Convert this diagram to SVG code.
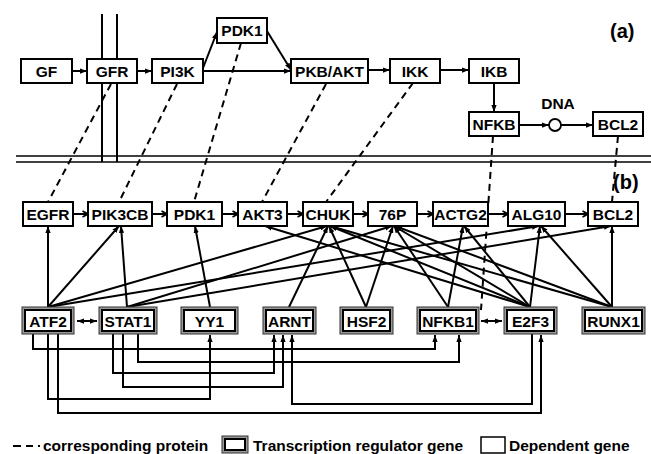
<svg xmlns="http://www.w3.org/2000/svg" width="651" height="454" viewBox="0 0 651 454">
<style>
text{font-family:"Liberation Sans",Arial,sans-serif;font-weight:bold;font-size:15.5px;fill:#000}
.c{text-anchor:middle}
.box{fill:#fff;stroke:#000;stroke-width:2}
.tro{fill:#9a9a9a;stroke:#333;stroke-width:1}
.tri{fill:#fff;stroke:#000;stroke-width:2}
.ln{stroke:#000;stroke-width:2;fill:none}
.dl{stroke:#000;stroke-width:2;fill:none;stroke-dasharray:7,5}
.thin{stroke:#000;stroke-width:1.5;fill:none}
</style>
<defs>
<marker id="ah" viewBox="0 0 8 6" refX="8" refY="3" markerWidth="7" markerHeight="5.5" markerUnits="userSpaceOnUse" orient="auto"><path d="M0,0 L8,3 L0,6 z" fill="#000"/></marker>
<marker id="as" viewBox="0 0 8 6" refX="0" refY="3" markerWidth="7" markerHeight="5.5" markerUnits="userSpaceOnUse" orient="auto"><path d="M8,0 L0,3 L8,6 z" fill="#000"/></marker>
<marker id="ch" viewBox="0 0 8 8" refX="7" refY="4" markerWidth="8" markerHeight="8" markerUnits="userSpaceOnUse" orient="auto"><path d="M1.5,1 L7,4 L1.5,7" fill="none" stroke="#000" stroke-width="1.8"/></marker>
</defs>

<g id="membrane">
<line class="thin" x1="16" y1="156" x2="651" y2="156"/>
<line class="thin" x1="16" y1="162" x2="651" y2="162"/>
<line class="ln" x1="102" y1="14" x2="102" y2="162"/>
<line class="ln" x1="117" y1="14" x2="117" y2="162"/>
</g>

<g id="connectors">
<line class="ln" x1="72" y1="71" x2="87" y2="71" marker-end="url(#ah)"/>
<line class="ln" x1="137" y1="71" x2="152" y2="71" marker-end="url(#ah)"/>
<line class="ln" x1="203" y1="71" x2="291" y2="71" marker-end="url(#ah)"/>
<line class="ln" x1="203" y1="68" x2="217" y2="32" marker-end="url(#ah)"/>
<line class="ln" x1="267" y1="31" x2="291" y2="70" marker-end="url(#ah)"/>
<line class="ln" x1="368" y1="70" x2="390" y2="70" marker-end="url(#ah)"/>
<line class="ln" x1="440" y1="70" x2="469" y2="70" marker-end="url(#ah)"/>
<line class="ln" x1="494" y1="83" x2="494" y2="112" marker-end="url(#ah)"/>
<line class="ln" x1="519" y1="125" x2="549" y2="125" marker-end="url(#ah)"/>
<line class="ln" x1="561" y1="125" x2="593" y2="125" marker-end="url(#ah)"/>
<line class="dl" x1="111" y1="84" x2="48" y2="202"/>
<line class="dl" x1="177" y1="84" x2="119" y2="202"/>
<line class="dl" x1="241" y1="43" x2="194" y2="202"/>
<line class="dl" x1="326" y1="84" x2="262" y2="202"/>
<line class="dl" x1="413" y1="83" x2="326" y2="202"/>
<line class="dl" x1="493" y1="136" x2="481" y2="310"/>
<line class="dl" x1="618" y1="136" x2="612" y2="202"/>
<line class="ln" x1="74" y1="214" x2="88" y2="214" marker-end="url(#ch)"/>
<line class="ln" x1="153" y1="214" x2="167" y2="214" marker-end="url(#ch)"/>
<line class="ln" x1="223" y1="214" x2="238" y2="214" marker-end="url(#ch)"/>
<line class="ln" x1="288" y1="214" x2="303" y2="214" marker-end="url(#ch)"/>
<line class="ln" x1="354" y1="214" x2="368" y2="214" marker-end="url(#ch)"/>
<line class="ln" x1="418" y1="214" x2="433" y2="214" marker-end="url(#ch)"/>
<line class="ln" x1="489" y1="214" x2="508" y2="214" marker-end="url(#ch)"/>
<line class="ln" x1="566" y1="214" x2="588" y2="214" marker-end="url(#ch)"/>
<line class="ln" x1="48" y1="307" x2="48" y2="226" marker-end="url(#ah)"/>
<line class="ln" x1="48" y1="307" x2="119" y2="226" marker-end="url(#ah)"/>
<line class="ln" x1="48" y1="307" x2="327" y2="226" marker-end="url(#ah)"/>
<line class="ln" x1="48" y1="307" x2="539" y2="226" marker-end="url(#ah)"/>
<line class="ln" x1="127" y1="307" x2="121" y2="226" marker-end="url(#ah)"/>
<line class="ln" x1="127" y1="307" x2="392" y2="226" marker-end="url(#ah)"/>
<line class="ln" x1="127" y1="307" x2="611" y2="226" marker-end="url(#ah)"/>
<line class="ln" x1="210" y1="307" x2="195" y2="226" marker-end="url(#ah)"/>
<line class="ln" x1="289" y1="307" x2="328" y2="226" marker-end="url(#ah)"/>
<line class="ln" x1="366" y1="307" x2="329" y2="226" marker-end="url(#ah)"/>
<line class="ln" x1="366" y1="307" x2="393" y2="226" marker-end="url(#ah)"/>
<line class="ln" x1="448" y1="307" x2="394" y2="226" marker-end="url(#ah)"/>
<line class="ln" x1="448" y1="307" x2="463" y2="226" marker-end="url(#ah)"/>
<line class="ln" x1="530" y1="307" x2="265" y2="226" marker-end="url(#ah)"/>
<line class="ln" x1="530" y1="307" x2="330" y2="226" marker-end="url(#ah)"/>
<line class="ln" x1="530" y1="307" x2="394" y2="226" marker-end="url(#ah)"/>
<line class="ln" x1="530" y1="307" x2="464" y2="226" marker-end="url(#ah)"/>
<line class="ln" x1="530" y1="307" x2="540" y2="226" marker-end="url(#ah)"/>
<line class="ln" x1="612" y1="307" x2="330" y2="226" marker-end="url(#ah)"/>
<line class="ln" x1="612" y1="307" x2="395" y2="226" marker-end="url(#ah)"/>
<line class="ln" x1="612" y1="307" x2="541" y2="226" marker-end="url(#ah)"/>
<line class="ln" x1="612" y1="307" x2="612" y2="226" marker-end="url(#ah)"/>
<line class="ln" x1="77" y1="321" x2="97" y2="321" marker-start="url(#as)" marker-end="url(#ah)"/>
<line class="ln" x1="481" y1="321" x2="502" y2="321" marker-start="url(#as)" marker-end="url(#ah)"/>
<polyline class="ln" points="33,334 33,349 435,349 435,335" marker-end="url(#ah)"/>
<polyline class="ln" points="138,334 138,362 459,362 459,335" marker-end="url(#ah)"/>
<polyline class="ln" points="113,334 113,373 274,373 274,335" marker-end="url(#ah)"/>
<polyline class="ln" points="123,334 123,387 283,387 283,335" marker-end="url(#ah)"/>
<polyline class="ln" points="48,334 48,399 210,399 210,335" marker-end="url(#ah)"/>
<polyline class="ln" points="532,334 532,404 292,404 292,335" marker-end="url(#ah)"/>
<polyline class="ln" points="58,334 58,413 541,413 541,335" marker-end="url(#ah)"/>
</g>

<g id="GF"><rect class="box" x="21" y="59" width="51" height="24"/><text class="c" x="46.5" y="77">GF</text></g>
<g id="GFR"><rect class="box" x="87" y="59" width="50" height="24"/><text class="c" x="112" y="77">GFR</text></g>
<g id="PI3K"><rect class="box" x="152" y="59" width="51" height="24"/><text class="c" x="177.5" y="77">PI3K</text></g>
<g id="PDK1a"><rect class="box" x="217" y="18" width="50" height="25"/><text class="c" x="242" y="36">PDK1</text></g>
<g id="PKBAKT"><rect class="box" x="291" y="59" width="77" height="24"/><text class="c" x="329.5" y="77">PKB/AKT</text></g>
<g id="IKK"><rect class="box" x="390" y="59" width="50" height="24"/><text class="c" x="415" y="77">IKK</text></g>
<g id="IKB"><rect class="box" x="469" y="59" width="50" height="24"/><text class="c" x="494" y="77">IKB</text></g>
<g id="NFKB"><rect class="box" x="469" y="112" width="50" height="24"/><text class="c" x="494" y="130">NFKB</text></g>
<g id="DNA"><circle cx="555" cy="125" r="6" fill="#fff" stroke="#000" stroke-width="1.8"/><text class="c" x="558" y="109">DNA</text></g>
<g id="BCL2a"><rect class="box" x="593" y="112" width="50" height="24"/><text class="c" x="618" y="130">BCL2</text></g>
<text x="610" y="38" style="font-size:20px">(a)</text>
<text x="613" y="189" style="font-size:20px">(b)</text>

<g id="EGFR"><rect class="box" x="23" y="202" width="50" height="24"/><text class="c" x="48" y="220">EGFR</text></g>
<g id="PIK3CB"><rect class="box" x="88" y="202" width="64" height="24"/><text class="c" x="120" y="220">PIK3CB</text></g>
<g id="PDK1"><rect class="box" x="167" y="202" width="55" height="24"/><text class="c" x="194.5" y="220">PDK1</text></g>
<g id="AKT3"><rect class="box" x="238" y="202" width="49" height="24"/><text class="c" x="262.5" y="220">AKT3</text></g>
<g id="CHUK"><rect class="box" x="303" y="202" width="50" height="24"/><text class="c" x="328" y="220">CHUK</text></g>
<g id="P76"><rect class="box" x="368" y="202" width="49" height="24"/><text class="c" x="392.5" y="220">76P</text></g>
<g id="ACTG2"><rect class="box" x="433" y="202" width="55" height="24"/><text class="c" x="460.5" y="220">ACTG2</text></g>
<g id="ALG10"><rect class="box" x="508" y="202" width="57" height="24"/><text class="c" x="536.5" y="220">ALG10</text></g>
<g id="BCL2"><rect class="box" x="588" y="202" width="50" height="24"/><text class="c" x="613" y="220">BCL2</text></g>

<g id="ATF2"><rect class="tro" x="22" y="307" width="52" height="27"/><rect class="tri" x="25" y="310" width="46" height="21"/><text class="c" x="48" y="327">ATF2</text></g>
<g id="STAT1"><rect class="tro" x="99" y="307" width="58" height="27"/><rect class="tri" x="102" y="310" width="52" height="21"/><text class="c" x="128" y="327">STAT1</text></g>
<g id="YY1"><rect class="tro" x="181" y="307" width="57" height="27"/><rect class="tri" x="184" y="310" width="51" height="21"/><text class="c" x="209.5" y="327">YY1</text></g>
<g id="ARNT"><rect class="tro" x="263" y="307" width="53" height="27"/><rect class="tri" x="266" y="310" width="47" height="21"/><text class="c" x="289.5" y="327">ARNT</text></g>
<g id="HSF2"><rect class="tro" x="340" y="307" width="53" height="27"/><rect class="tri" x="343" y="310" width="47" height="21"/><text class="c" x="366.5" y="327">HSF2</text></g>
<g id="NFKB1"><rect class="tro" x="417" y="307" width="62" height="27"/><rect class="tri" x="420" y="310" width="56" height="21"/><text class="c" x="448" y="327">NFKB1</text></g>
<g id="E2F3"><rect class="tro" x="504" y="307" width="53" height="27"/><rect class="tri" x="507" y="310" width="47" height="21"/><text class="c" x="530.5" y="327">E2F3</text></g>
<g id="RUNX1"><rect class="tro" x="582" y="307" width="63" height="27"/><rect class="tri" x="585" y="310" width="57" height="21"/><text class="c" x="613.5" y="327">RUNX1</text></g>

<g id="legend">
<line class="ln" x1="13" y1="446" x2="21" y2="446"/>
<line class="ln" x1="26" y1="446" x2="33" y2="446"/>
<rect x="38" y="445" width="2" height="2" fill="#000"/>
<text x="43" y="451">corresponding protein</text>
<rect class="tro" x="222" y="436" width="26" height="17"/><rect class="tri" x="225" y="439" width="20" height="11"/>
<text x="253" y="451">Transcription regulator gene</text>
<rect x="481" y="437" width="24" height="16" fill="#fff" stroke="#000" stroke-width="1.5"/>
<text x="509" y="451">Dependent gene</text>
</g>
</svg>
